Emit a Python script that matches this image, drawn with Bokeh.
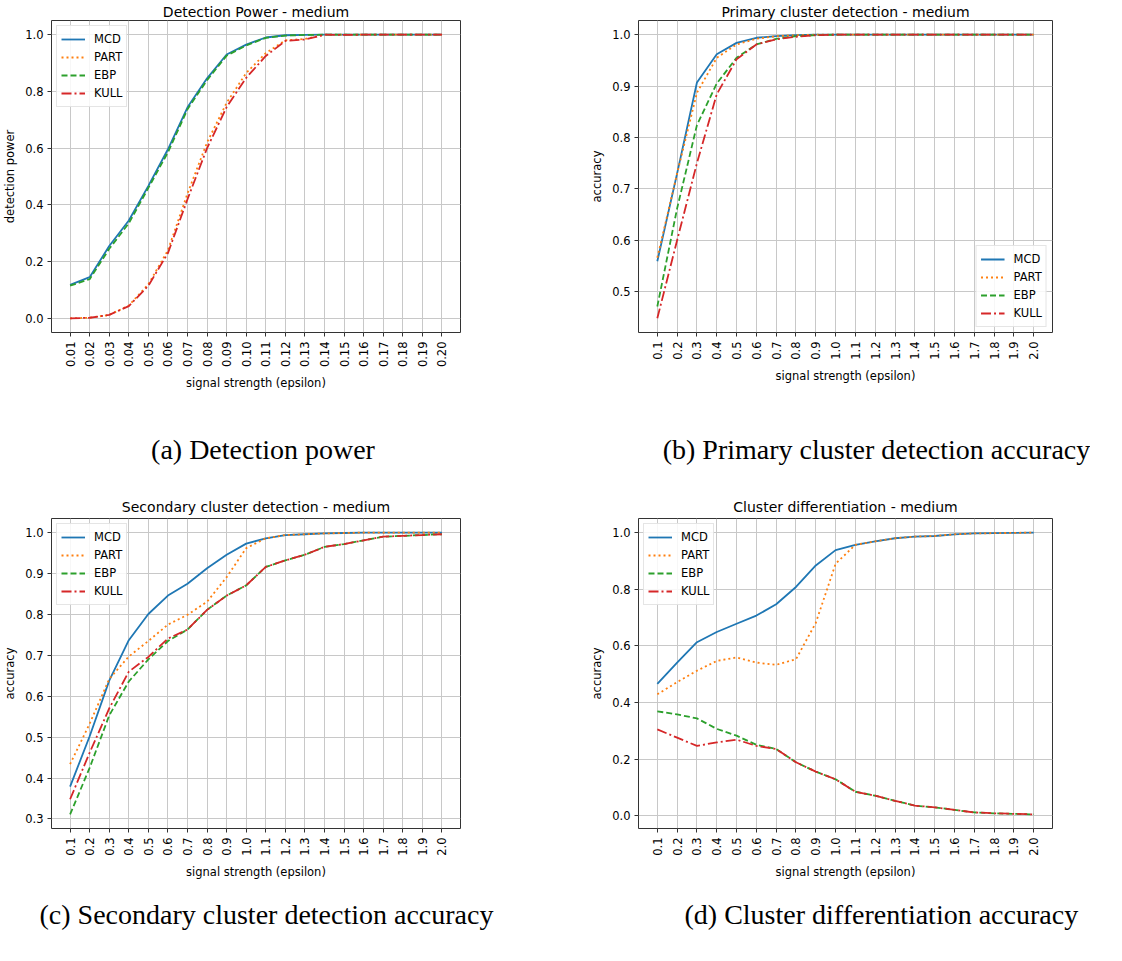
import math
from bokeh.plotting import figure
from bokeh.models import FixedTicker, NumeralTickFormatter, Range1d, Title
from bokeh.layouts import column, row
from bokeh.core.properties import value
from bokeh.embed import file_html
from bokeh.resources import INLINE

# ---------------- data ----------------
eps_a = [0.01, 0.02, 0.03, 0.04, 0.05, 0.06, 0.07, 0.08, 0.09, 0.10,
         0.11, 0.12, 0.13, 0.14, 0.15, 0.16, 0.17, 0.18, 0.19, 0.20]
eps_b = [0.1, 0.2, 0.3, 0.4, 0.5, 0.6, 0.7, 0.8, 0.9, 1.0,
         1.1, 1.2, 1.3, 1.4, 1.5, 1.6, 1.7, 1.8, 1.9, 2.0]

methods = ["MCD", "PART", "EBP", "KULL"]

panel_titles = ["Detection Power - medium", "Primary cluster detection - medium",
                "Secondary cluster detection - medium", "Cluster differentiation - medium"]
captions = ["(a) Detection power", "(b) Primary cluster detection accuracy",
            "(c) Secondary cluster detection accuracy", "(d) Cluster differentiation accuracy"]
y_labels = ["detection power", "accuracy", "accuracy", "accuracy"]
x_label = "signal strength (epsilon)"

# (a) detection power
mcd_a = [0.118, 0.145, 0.255, 0.345, 0.467, 0.596, 0.744, 0.846, 0.930, 0.965,
         0.990, 0.998, 0.999, 1.0, 1.0, 1.0, 1.0, 1.0, 1.0, 1.0]
part_a = [0.0, 0.002, 0.012, 0.045, 0.120, 0.240, 0.440, 0.620, 0.760, 0.865,
          0.935, 0.980, 0.985, 1.0, 1.0, 1.0, 1.0, 1.0, 1.0, 1.0]
ebp_a = [0.115, 0.138, 0.245, 0.335, 0.460, 0.585, 0.737, 0.840, 0.926, 0.962,
         0.989, 0.997, 0.999, 1.0, 1.0, 1.0, 1.0, 1.0, 1.0, 1.0]
kull_a = [0.0, 0.002, 0.012, 0.043, 0.115, 0.230, 0.420, 0.600, 0.745, 0.848,
          0.925, 0.978, 0.983, 1.0, 0.999, 1.0, 1.0, 1.0, 1.0, 1.0]

# (b) primary cluster detection accuracy
mcd_b = [0.559, 0.730, 0.907, 0.962, 0.984, 0.994, 0.997, 0.999, 1.0, 1.0,
         1.0, 1.0, 1.0, 1.0, 1.0, 1.0, 1.0, 1.0, 1.0, 1.0]
part_b = [0.566, 0.730, 0.887, 0.955, 0.981, 0.992, 0.997, 0.999, 1.0, 1.0,
          1.0, 1.0, 1.0, 1.0, 1.0, 1.0, 1.0, 1.0, 1.0, 1.0]
ebp_b = [0.471, 0.662, 0.824, 0.905, 0.955, 0.981, 0.992, 0.997, 0.999, 1.0,
         1.0, 1.0, 1.0, 1.0, 1.0, 1.0, 1.0, 1.0, 1.0, 1.0]
kull_b = [0.448, 0.600, 0.750, 0.884, 0.952, 0.981, 0.991, 0.996, 0.999, 1.0,
          1.0, 1.0, 1.0, 1.0, 1.0, 1.0, 1.0, 1.0, 1.0, 1.0]

# (c) secondary cluster detection accuracy
mcd_c = [0.379, 0.502, 0.638, 0.737, 0.801, 0.846, 0.875, 0.913, 0.946, 0.973,
         0.986, 0.994, 0.996, 0.998, 0.999, 1.0, 1.0, 1.0, 1.0, 1.0]
part_c = [0.434, 0.533, 0.642, 0.697, 0.735, 0.775, 0.799, 0.831, 0.891, 0.962,
          0.986, 0.994, 0.996, 0.998, 0.999, 1.0, 1.0, 1.0, 1.0, 1.0]
ebp_c = [0.311, 0.425, 0.553, 0.636, 0.690, 0.735, 0.763, 0.811, 0.846, 0.871,
         0.916, 0.932, 0.946, 0.965, 0.972, 0.981, 0.990, 0.992, 0.994, 0.996]
kull_c = [0.348, 0.462, 0.570, 0.660, 0.696, 0.741, 0.763, 0.811, 0.846, 0.871,
          0.916, 0.932, 0.946, 0.965, 0.972, 0.981, 0.990, 0.992, 0.994, 0.996]

# (d) cluster differentiation accuracy
mcd_d = [0.466, 0.541, 0.613, 0.649, 0.678, 0.707, 0.747, 0.808, 0.884, 0.938,
         0.957, 0.969, 0.980, 0.986, 0.988, 0.994, 0.997, 0.998, 0.999, 1.0]
part_d = [0.429, 0.472, 0.512, 0.547, 0.559, 0.541, 0.533, 0.553, 0.681, 0.890,
          0.957, 0.969, 0.980, 0.986, 0.988, 0.994, 0.997, 0.998, 0.999, 1.0]
ebp_d = [0.369, 0.358, 0.344, 0.307, 0.283, 0.251, 0.236, 0.189, 0.156, 0.129,
         0.085, 0.071, 0.053, 0.036, 0.030, 0.021, 0.012, 0.009, 0.007, 0.005]
kull_d = [0.305, 0.276, 0.247, 0.259, 0.269, 0.247, 0.236, 0.189, 0.156, 0.129,
          0.085, 0.071, 0.053, 0.036, 0.030, 0.021, 0.012, 0.009, 0.007, 0.005]

yticks_a = [0.0, 0.2, 0.4, 0.6, 0.8, 1.0]
yticks_b = [0.5, 0.6, 0.7, 0.8, 0.9, 1.0]
yticks_c = [0.3, 0.4, 0.5, 0.6, 0.7, 0.8, 0.9, 1.0]
yticks_d = [0.0, 0.2, 0.4, 0.6, 0.8, 1.0]

# ---------------- styling / layout ----------------
COLORS = {"MCD": "#1f77b4", "PART": "#ff7f0e", "EBP": "#2ca02c", "KULL": "#d62728"}
DASHES = {"MCD": "solid", "PART": "2 3", "EBP": "6 3", "KULL": "10 3 2 3"}
SANS = "DejaVu Sans"
SERIF = "Liberation Serif"
FIG_W = 545
TOTAL_W = 2 * FIG_W
FRAME_H = 314
LEFT_COL = (44, 416)   # (left border, frame width) for left-hand panels
RIGHT_COL = (93, 414)  # for right-hand panels
CAP_X = [262.5, 876]   # caption centres inside the middle text strip (px)
CAP_SIZE = "28px"


def make_panel(title, x, xfmt, series, yticks, ylabel, legend_loc, col, top, bottom,
               title_standoff, caption=None, cap_offset=0, cap_standoff=0):
    left, frame_w = col
    allv = [v for s in series for v in s]
    ymin, ymax = min(allv), max(allv)
    ypad = 0.05 * (ymax - ymin)
    xpad = 0.05 * (x[-1] - x[0])
    height = top + FRAME_H + bottom
    p = figure(width=FIG_W, height=height, output_backend="svg", toolbar_location=None,
               title=title,
               x_range=Range1d(x[0] - xpad, x[-1] + xpad),
               y_range=Range1d(ymin - ypad, ymax + ypad),
               min_border_left=left, min_border_right=FIG_W - left - frame_w,
               min_border_top=top, min_border_bottom=bottom)
    p.title.align = "center"
    p.title.text_font = SANS
    p.title.text_font_size = "14px"
    p.title.text_font_style = "normal"
    p.title.text_color = "black"
    p.title.standoff = title_standoff

    for name, ys in zip(methods, series):
        p.line(x, ys, line_color=COLORS[name], line_width=1.8,
               line_dash=DASHES[name], legend_label=name)

    p.xaxis.ticker = FixedTicker(ticks=x)
    p.xaxis.formatter = NumeralTickFormatter(format=xfmt)
    p.xaxis.major_label_orientation = math.pi / 2
    p.yaxis.ticker = FixedTicker(ticks=yticks)
    p.yaxis.formatter = NumeralTickFormatter(format="0.0")
    p.xaxis.axis_label = x_label
    p.yaxis.axis_label = ylabel
    for ax in (p.xaxis[0], p.yaxis[0]):
        ax.axis_line_color = None
        ax.major_tick_line_color = "#333333"
        ax.major_tick_out = 4
        ax.major_tick_in = 0
        ax.minor_tick_line_color = None
        ax.major_label_text_font = SANS
        ax.major_label_text_font_size = "11.5px"
        ax.major_label_text_color = "black"
        ax.axis_label_text_font = SANS
        ax.axis_label_text_font_size = "11.5px"
        ax.axis_label_text_font_style = "normal"
        ax.axis_label_text_color = "black"
    p.xaxis.major_label_standoff = 5
    p.xaxis.axis_label_standoff = 6
    p.yaxis.major_label_standoff = 4
    p.yaxis.axis_label_standoff = 5

    p.xgrid.grid_line_color = "#c8c8c8"
    p.ygrid.grid_line_color = "#c8c8c8"
    p.xgrid.grid_line_width = 1
    p.ygrid.grid_line_width = 1
    p.outline_line_color = "#333333"
    p.outline_line_width = 1
    p.outline_line_alpha = 1
    p.background_fill_color = "white"
    p.border_fill_color = "white"

    lg = p.legend[0]
    lg.location = legend_loc
    lg.margin = 5
    lg.padding = 4
    lg.spacing = 0
    lg.label_height = 18
    lg.glyph_height = 18
    lg.glyph_width = 24
    lg.label_standoff = 9
    lg.label_text_font = SANS
    lg.label_text_font_size = "11.5px"
    lg.label_text_color = "black"
    lg.border_line_color = "#cccccc"
    lg.border_line_width = 1
    lg.background_fill_alpha = 0.85

    if caption:
        p.add_layout(Title(text=caption, align="left", offset=cap_offset,
                           standoff=cap_standoff, text_font=SERIF,
                           text_font_size=CAP_SIZE, text_font_style="normal",
                           text_color="black"), "below")
    return p


def make_strip(height, items):
    """items: list of (text, x_centre, baseline_from_top)"""
    s = figure(width=TOTAL_W, height=height, output_backend="svg", toolbar_location=None,
               title=None, x_axis_type=None, y_axis_type=None,
               x_range=Range1d(0, TOTAL_W), y_range=Range1d(0, height),
               min_border=0, outline_line_color=None)
    s.xgrid.visible = False
    s.ygrid.visible = False
    s.background_fill_color = "white"
    s.border_fill_color = "white"
    for text, xc, base in items:
        s.text(x=[xc], y=[height - base], text=[text], text_align="center",
               text_baseline="alphabetic", text_font=value(SERIF),
               text_font_size=CAP_SIZE, text_color="black")
    return s


pa = make_panel(panel_titles[0], eps_a, "0.00", [mcd_a, part_a, ebp_a, kull_a], yticks_a,
                y_labels[0], "top_left", LEFT_COL, 19, 60, 2)
pb = make_panel(panel_titles[1], eps_b, "0.0", [mcd_b, part_b, ebp_b, kull_b], yticks_b,
                y_labels[1], "bottom_right", RIGHT_COL, 19, 60, 2)
pc = make_panel(panel_titles[2], eps_b, "0.0", [mcd_c, part_c, ebp_c, kull_c], yticks_c,
                y_labels[2], "top_left", LEFT_COL, 26, 112, 7,
                captions[2], -12, 30)
pd_ = make_panel(panel_titles[3], eps_b, "0.0", [mcd_d, part_d, ebp_d, kull_d], yticks_d,
                 y_labels[3], "top_left", RIGHT_COL, 26, 112, 7,
                 captions[3], 46, 30)

strip_mid = make_strip(99, [
    (captions[0], CAP_X[0], 56),
    (captions[1], CAP_X[1], 56),
])

layout = column(row(pa, pb), strip_mid, row(pc, pd_))
open("out.html", "w").write(file_html(layout, INLINE))
